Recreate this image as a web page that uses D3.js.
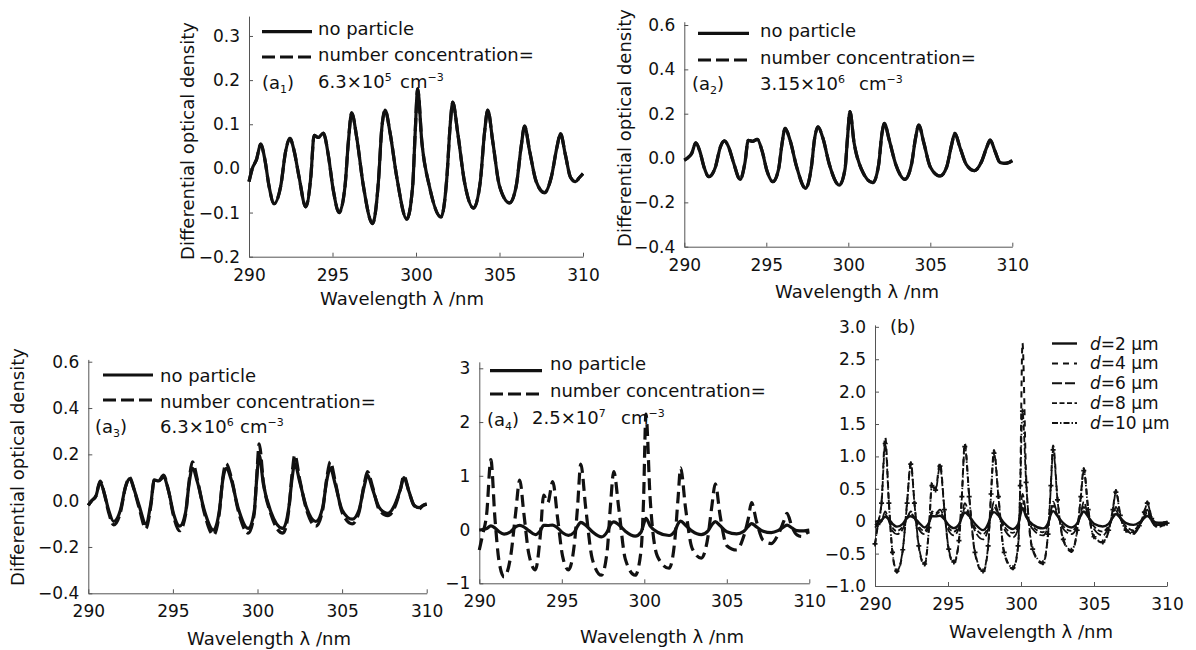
<!DOCTYPE html>
<html lang="en">
<head>
<meta charset="utf-8">
<title>Differential optical density vs wavelength</title>
<script src="https://cdn.jsdelivr.net/npm/d3@7"></script>
<style>
  body { margin: 0; background: #fff; }
  svg text { font-family: 'DejaVu Sans', sans-serif; fill: #111; }
  .axis path, .axis line { stroke: #555; stroke-width: 1; }
  .axis text { font-size: 17px; font-family: 'DejaVu Sans', sans-serif; fill: #111; }
</style>
</head>
<body>
<script>
// shared sampling grid (nm): troughs, flanks and peaks of the absorption bands
var wavelength = [290.0, 290.2, 290.45, 290.7, 290.95, 291.2, 291.5, 291.9, 292.2, 292.45,
  292.7, 293.0, 293.4, 293.7, 293.9, 294.15, 294.45, 294.75, 295.05, 295.4,
  295.75, 295.95, 296.15, 296.45, 296.85, 297.4, 297.75, 297.95, 298.15, 298.45,
  298.85, 299.45, 299.8, 299.95, 300.1, 300.35, 300.8, 301.5, 301.85, 302.05,
  302.2, 302.5, 302.9, 303.45, 303.85, 304.1, 304.3, 304.6, 305.0, 305.6,
  306.0, 306.3, 306.5, 306.8, 307.2, 307.7, 308.1, 308.45, 308.65, 308.95,
  309.25, 309.55, 309.8, 310.0];

// (a1) no particle / 6.3e5 cm-3 (curves coincide)
var a1Base = [-0.03, 0.0, 0.02, 0.055, 0.02, -0.04, -0.08, -0.04, 0.04, 0.068,
  0.04, -0.02, -0.087, -0.02, 0.075, 0.07, 0.08, 0.03, -0.05, -0.1,
  -0.04, 0.06, 0.126, 0.07, -0.04, -0.125, -0.03, 0.09, 0.132, 0.08,
  -0.02, -0.115, -0.04, 0.08, 0.18, 0.06, -0.04, -0.11, -0.02, 0.1,
  0.15, 0.08, -0.03, -0.09, -0.03, 0.08, 0.132, 0.06, -0.04, -0.078,
  -0.04, 0.05, 0.096, 0.04, -0.03, -0.055, -0.02, 0.05, 0.079, 0.03,
  -0.02, -0.03, -0.02, -0.012];
var a1Conc = a1Base;

// (a2) no particle / 3.15e6 cm-3 (curves coincide)
var a2Base = [-0.01, 0.0, 0.02, 0.069, 0.03, -0.04, -0.084, -0.04, 0.05, 0.077,
  0.05, -0.02, -0.096, -0.02, 0.08, 0.075, 0.084, 0.03, -0.06, -0.107,
  -0.05, 0.06, 0.134, 0.08, -0.04, -0.137, -0.04, 0.09, 0.141, 0.09,
  -0.03, -0.122, -0.05, 0.09, 0.209, 0.07, -0.05, -0.111, -0.03, 0.11,
  0.156, 0.08, -0.03, -0.096, -0.03, 0.09, 0.149, 0.07, -0.04, -0.081,
  -0.04, 0.06, 0.111, 0.05, -0.03, -0.057, -0.02, 0.05, 0.081, 0.03,
  -0.02, -0.024, -0.02, -0.012];
var a2Conc = a2Base;

// (a3) no particle / 6.3e6 cm-3
var a3Base = [-0.02, 0.0, 0.02, 0.08, 0.03, -0.04, -0.09, -0.04, 0.06, 0.095,
  0.05, -0.02, -0.1, -0.01, 0.09, 0.085, 0.1, 0.04, -0.06, -0.11,
  -0.05, 0.07, 0.14, 0.08, -0.04, -0.127, -0.04, 0.09, 0.14, 0.09,
  -0.03, -0.12, -0.05, 0.09, 0.197, 0.07, -0.05, -0.12, -0.03, 0.1,
  0.16, 0.08, -0.03, -0.09, -0.03, 0.09, 0.14, 0.07, -0.04, -0.08,
  -0.04, 0.06, 0.11, 0.05, -0.03, -0.055, -0.02, 0.05, 0.1, 0.04,
  -0.02, -0.03, -0.02, -0.015];
var a3Conc = [-0.02, 0.0, 0.02, 0.085, 0.03, -0.05, -0.105, -0.05, 0.06, 0.1,
  0.05, -0.03, -0.12, -0.02, 0.09, 0.085, 0.11, 0.04, -0.07, -0.13,
  -0.06, 0.08, 0.168, 0.09, -0.05, -0.148, -0.05, 0.1, 0.16, 0.1,
  -0.04, -0.14, -0.06, 0.1, 0.245, 0.08, -0.06, -0.14, -0.04, 0.12,
  0.197, 0.09, -0.04, -0.11, -0.04, 0.1, 0.168, 0.08, -0.05, -0.1,
  -0.05, 0.07, 0.125, 0.06, -0.04, -0.065, -0.03, 0.05, 0.107, 0.04,
  -0.02, -0.035, -0.02, -0.015];

// (a4) no particle / 2.5e7 cm-3
var a4Base = a2Base;
var a4Conc = [-0.38, -0.1, 0.3, 1.3, 0.2, -0.6, -0.88, -0.5, 0.3, 0.92,
  0.3, -0.45, -0.75, -0.1, 0.64, 0.5, 0.89, 0.2, -0.5, -0.75,
  -0.3, 0.4, 1.22, 0.4, -0.55, -0.85, -0.4, 0.45, 1.08, 0.4,
  -0.55, -0.85, -0.4, 0.5, 2.15, 0.6, -0.5, -0.72, -0.2, 0.6,
  1.15, 0.4, -0.35, -0.53, -0.15, 0.45, 0.85, 0.25, -0.3, -0.38,
  -0.15, 0.2, 0.5, 0.15, -0.2, -0.26, -0.1, 0.15, 0.3, 0.05,
  -0.1, -0.13, -0.07, -0.04];

// (b) particle diameters
var bD2 = a2Base;
var bD4 = [-0.37, -0.05, 0.3, 1.3, 0.3, -0.5, -0.79, -0.45, 0.3, 0.91,
  0.3, -0.4, -0.68, -0.1, 0.6, 0.5, 0.9, 0.2, -0.45, -0.65,
  -0.3, 0.4, 1.2, 0.4, -0.5, -0.79, -0.4, 0.45, 1.1, 0.4,
  -0.5, -0.74, -0.4, 0.6, 2.75, 0.7, -0.45, -0.66, -0.2, 0.6,
  1.17, 0.35, -0.3, -0.47, -0.15, 0.4, 0.82, 0.2, -0.25, -0.33,
  -0.15, 0.2, 0.48, 0.1, -0.15, -0.18, -0.08, 0.15, 0.3, 0.05,
  -0.07, -0.07, -0.05, -0.03];
var bD6 = [-0.1, -0.05, 0.0, 0.15, 0.0, -0.15, -0.2, -0.12, 0.05, 0.15,
  0.05, -0.12, -0.2, -0.05, 0.15, 0.12, 0.18, 0.05, -0.15, -0.22,
  -0.1, 0.1, 0.28, 0.1, -0.15, -0.28, -0.12, 0.12, 0.3, 0.12,
  -0.12, -0.25, -0.12, 0.15, 0.42, 0.12, -0.12, -0.22, -0.08, 0.15,
  0.3, 0.1, -0.12, -0.2, -0.08, 0.12, 0.3, 0.08, -0.12, -0.22,
  -0.1, 0.08, 0.22, 0.05, -0.12, -0.2, -0.08, 0.08, 0.18, 0.0,
  -0.08, -0.08, -0.06, -0.04];
var bD8 = [-0.06, -0.02, 0.0, 0.1, 0.02, -0.1, -0.15, -0.08, 0.05, 0.12,
  0.05, -0.08, -0.15, -0.03, 0.12, 0.1, 0.14, 0.04, -0.1, -0.16,
  -0.07, 0.08, 0.2, 0.08, -0.1, -0.2, -0.08, 0.1, 0.22, 0.1,
  -0.08, -0.18, -0.08, 0.12, 0.32, 0.1, -0.08, -0.17, -0.05, 0.12,
  0.24, 0.09, -0.08, -0.15, -0.05, 0.1, 0.22, 0.07, -0.08, -0.16,
  -0.07, 0.06, 0.16, 0.04, -0.08, -0.14, -0.05, 0.06, 0.14, 0.01,
  -0.06, -0.06, -0.05, -0.03];
var bD10 = [-0.35, -0.05, 0.28, 1.2, 0.28, -0.48, -0.77, -0.44, 0.28, 0.88,
  0.28, -0.38, -0.66, -0.1, 0.55, 0.48, 0.85, 0.18, -0.43, -0.63,
  -0.3, 0.38, 1.15, 0.38, -0.48, -0.77, -0.38, 0.42, 1.05, 0.38,
  -0.48, -0.72, -0.38, 0.55, 1.7, 0.6, -0.43, -0.64, -0.2, 0.55,
  1.1, 0.33, -0.28, -0.45, -0.14, 0.38, 0.78, 0.18, -0.24, -0.32,
  -0.14, 0.18, 0.45, 0.09, -0.14, -0.17, -0.07, 0.14, 0.28, 0.04,
  -0.06, -0.06, -0.04, -0.03];

var svg = d3.select("body").append("svg")
  .attr("width", 1196)
  .attr("height", 650);

svg.append("rect").attr("width", 1196).attr("height", 650).attr("fill", "#fff");

function fmt1(d) { return d3.format(".1f")(d); }
function fmtB(d) { return d === 0 ? "0" : d3.format(".1f")(d); }
function fmtInt(d) { return d3.format("d")(d); }

// writes "(a" + subscript
function panelTag(g, x, y, sub) {
  var t = g.append("text").attr("x", x).attr("y", y).style("font-size", "18px").text("(a");
  t.append("tspan").attr("dy", 4).style("font-size", "11px").text(sub);
  t.append("tspan").attr("dy", -4).text(")");
}

// writes mantissa×10^exp cm^-3, "cm" placed at cmX
function concText(g, x, y, mant, exp, cmX) {
  var t = g.append("text").attr("x", x).attr("y", y).style("font-size", "18px").text(mant + "\u00d710");
  t.append("tspan").attr("dy", -7).style("font-size", "11px").text(exp);
  t.append("tspan").attr("x", cmX).attr("dy", 7).text("cm");
  t.append("tspan").attr("dy", -7).style("font-size", "11px").text("\u22123");
}

var panels = [
  {x: [249, 583], yDom: [-0.2, 0.345], yPx: [256.7, 16.1], ticks: [-0.2, -0.1, 0, 0.1, 0.2, 0.3], fmt: fmt1,
   ylab: [187, 141], xlab: [402, 305],
   series: [{v: a1Base, dash: null, w: 3.2}, {v: a1Conc, dash: "13,5", w: 3.2}],
   legend: {x0: 262, x1: 312, tx: 318, rows: [31.7, 57], base: [34.5, 61], lab3: 88, tag: [262, 89], numX: 318, cmX: 400, mant: "6.3", exp: "5"}},
  {x: [684.3, 1012.3], yDom: [-0.4, 0.615], yPx: [246.7, 21.7], ticks: [-0.4, -0.2, 0, 0.2, 0.4, 0.6], fmt: fmt1,
   ylab: [624, 128], xlab: [857, 298],
   series: [{v: a2Base, dash: null, w: 3.2}, {v: a2Conc, dash: "13,5", w: 3.2}],
   legend: {x0: 698, x1: 749, tx: 760, rows: [33.3, 60], base: [37, 63.5], lab3: 90, tag: [692, 90], numX: 760, cmX: 859, mant: "3.15", exp: "6"}},
  {x: [88.3, 426.7], yDom: [-0.4, 0.61], yPx: [593.3, 359.4], ticks: [-0.4, -0.2, 0, 0.2, 0.4, 0.6], fmt: fmt1,
   ylab: [17, 467], xlab: [269, 645],
   series: [{v: a3Base, dash: null, w: 3.2}, {v: a3Conc, dash: "13,5", w: 3.2}],
   legend: {x0: 103, x1: 153, tx: 160, rows: [375, 400], base: [381.5, 408], lab3: 433, tag: [95, 433], numX: 160, cmX: 240, mant: "6.3", exp: "6"}},
  {x: [479.3, 809.3], yDom: [-1, 3.12], yPx: [583.3, 361.85], ticks: [-1, 0, 1, 2, 3], fmt: fmtInt,
   ylab: null, xlab: [662, 643],
   series: [{v: a4Conc, dash: "12,6", w: 3.2}, {v: a4Base, dash: null, w: 3.2}],
   legend: {x0: 490, x1: 542, tx: 550, rows: [370.7, 394], base: [370, 396.5], lab3: 424, tag: [487, 426], numX: 532, cmX: 621, mant: "2.5", exp: "7"}},
  {x: [875, 1167], yDom: [-1, 3.03], yPx: [586, 324.9], ticks: [-1, -0.5, 0, 0.5, 1, 1.5, 2, 2.5, 3], fmt: fmtB,
   ylab: null, xlab: [1031, 638],
   series: [
     {v: bD10, dash: "6,2,1.5,2", w: 1.8, marker: true},
     {v: bD4, dash: "6,5", w: 2},
     {v: bD6, dash: "10,3", w: 1.8},
     {v: bD8, dash: "5,2.5", w: 1.8},
     {v: bD2, dash: null, w: 2.4}],
   legend: null}
];

panels.forEach(function(p, pi) {
  var g = svg.append("g");
  var x = d3.scaleLinear().domain([290, 310]).range(p.x);
  var y = d3.scaleLinear().domain(p.yDom).range(p.yPx);

  g.append("g")
    .attr("class", "axis")
    .attr("transform", "translate(0," + p.yPx[0] + ")")
    .call(d3.axisBottom(x).tickValues([290, 295, 300, 305, 310]).tickSizeInner(-4).tickSizeOuter(0).tickPadding(12));

  g.append("g")
    .attr("class", "axis")
    .attr("transform", "translate(" + p.x[0] + ",0)")
    .call(d3.axisLeft(y).tickValues(p.ticks).tickFormat(p.fmt).tickSizeInner(-4).tickSizeOuter(0).tickPadding(9));

  var line = d3.line()
    .x(function(d, i) { return x(wavelength[i]); })
    .y(function(d) { return y(d); })
    .curve(d3.curveMonotoneX);

  p.series.forEach(function(s) {
    g.append("path")
      .datum(s.v)
      .attr("d", line)
      .attr("fill", "none")
      .attr("stroke", "#111")
      .attr("stroke-width", s.w)
      .attr("stroke-linejoin", "round")
      .attr("stroke-dasharray", s.dash);
    if (s.marker) {
      g.selectAll(null)
        .data(s.v)
        .enter()
        .append("path")
        .attr("transform", function(d, i) { return "translate(" + x(wavelength[i]) + "," + y(d) + ")"; })
        .attr("d", d3.symbol().type(d3.symbolCross).size(14))
        .attr("fill", "#111");
    }
  });

  g.append("text")
    .attr("x", p.xlab[0]).attr("y", p.xlab[1])
    .attr("text-anchor", "middle")
    .style("font-size", "18px")
    .text("Wavelength \u03bb /nm");

  if (p.ylab) {
    g.append("text")
      .attr("transform", "translate(" + p.ylab[0] + "," + p.ylab[1] + ") rotate(-90)")
      .attr("text-anchor", "middle")
      .attr("dominant-baseline", "central")
      .style("font-size", "18px")
      .text("Differential optical density");
  }

  if (p.legend) {
    var L = p.legend;
    [null, "13,5"].forEach(function(dash, i) {
      g.append("line")
        .attr("x1", L.x0).attr("x2", L.x1)
        .attr("y1", L.rows[i]).attr("y2", L.rows[i])
        .attr("stroke", "#111").attr("stroke-width", 3.2)
        .attr("stroke-dasharray", dash);
    });
    g.append("text").attr("x", L.tx).attr("y", L.base[0]).style("font-size", "18px").text("no particle");
    g.append("text").attr("x", L.tx).attr("y", L.base[1]).style("font-size", "18px").text("number concentration=");
    panelTag(g, L.tag[0], L.tag[1], pi + 1);
    concText(g, L.numX, L.lab3, L.mant, L.exp, L.cmX);
  }
});

// legend and tag for (b)
var bLegend = [
  {d: "2", dash: null, w: 2.4},
  {d: "4", dash: "6,5", w: 2},
  {d: "6", dash: "10,3", w: 1.8},
  {d: "8", dash: "5,2.5", w: 1.8},
  {d: "10", dash: "6,2,1.5,2", w: 1.8}
];
var bRowY = d3.scaleLinear().domain([0, 4]).range([343.5, 423]);
var bl = svg.append("g");
bLegend.forEach(function(item, i) {
  bl.append("line")
    .attr("x1", 1052).attr("x2", 1077)
    .attr("y1", bRowY(i)).attr("y2", bRowY(i))
    .attr("stroke", "#111").attr("stroke-width", item.w)
    .attr("stroke-dasharray", item.dash);
  var t = bl.append("text").attr("x", 1090).attr("y", bRowY(i) + 6).style("font-size", "17px");
  t.append("tspan").style("font-style", "italic").text("d");
  t.append("tspan").text("=" + item.d + " \u03bcm");
});
bl.append("text").attr("x", 890).attr("y", 333).style("font-size", "18px").text("(b)");
</script>
</body>
</html>
